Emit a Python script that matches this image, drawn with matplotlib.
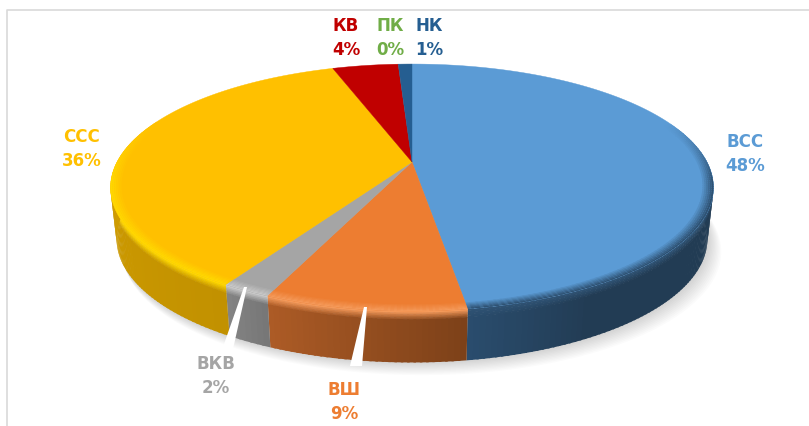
import numpy as np
import matplotlib
matplotlib.use('Agg')
import matplotlib.pyplot as plt
from matplotlib.collections import PolyCollection
from matplotlib.colors import to_rgb

# Data, clockwise from 12 o'clock
categories = ['ВСС', 'ВШ', 'ВКВ', 'ССС', 'КВ', 'ПК', 'НК']
values = [47.6, 8.9, 2.2, 36.1, 4.3, 0.0, 0.9]
percent_labels = ['48%', '9%', '2%', '36%', '4%', '0%', '1%']

colors = ['#5B9BD5', '#ED7D31', '#A5A5A5', '#FFC000', '#C00000', '#70AD47', '#255E91']
wall_left = ['#2A4D6E', '#AE5C26', '#858585', '#E2AC00', '#8A0000', '#4F7A32', '#1A4266']
wall_right = ['#223C54', '#7D4119', '#777777', '#C29100', '#8A0000', '#4F7A32', '#1A4266']
rim_colors = ['#2F5273', '#F59A5A', '#C8C8C8', '#FFD800', '#D01010', '#70AD47', '#255E91']
label_pos = [(745, 154), (344, 402), (216, 376), (82, 149), (346, 38), (390, 38), (429, 38)]

# Perspective of the pie in pixel coordinates
apex_x, apex_y = 412, 163
a, c, d = 118.2, 0.2065, 295.0
depth = 51


def project(theta, r=1.0, z=0.0):
    # theta in degrees, clockwise from the far side of the disc
    t = np.radians(theta)
    u = r * np.sin(t)
    v = r * np.cos(t)
    w = 1 + c * v
    return apex_x + (1 - 0.02 * z) * d * u / w, apex_y - a * v / w + z * depth


def mix(col1, col2, f):
    return tuple((1 - f) * np.array(to_rgb(col1)) + f * np.array(to_rgb(col2)))


def quad(t1, t2, r1, r2, z1, z2):
    x1, y1 = project(t1, r1, z1)
    x2, y2 = project(t2, r1, z1)
    x3, y3 = project(t2, r2, z2)
    x4, y4 = project(t1, r2, z2)
    return [(x1, y1), (x2, y2), (x3, y3), (x4, y4)]


fig = plt.figure(figsize=(8.09, 4.27), dpi=100)
ax = fig.add_axes([0, 0, 1, 1])
ax.set_xlim(0, 809)
ax.set_ylim(427, 0)
ax.axis('off')

# Chart frame
ax.plot([809, 7.5, 7.5], [10.5, 10.5, 427], color='#D9D9D9', lw=1.2)

# Soft shadow under the pie
all_t = np.linspace(0, 360, 361)
for i in range(12):
    x, y = project(all_t, 1.0, 1.0)
    ax.fill((x - apex_x) * (1 + 0.0012 * i) + apex_x + 0.9 * i, y + 1.2 * i,
            color='black', alpha=0.014, lw=0, zorder=1)

# Edges of the slices
edges = np.concatenate([[0], np.cumsum(values)]) * 3.6

# Side wall, cut in thin strips so it can carry a gradient
z_steps = np.r_[np.linspace(0, 0.16, 6), 1.0]
wall_polys = []
wall_cols = []
for k in range(len(values)):
    if values[k] == 0:
        continue
    steps = max(int(edges[k + 1] - edges[k]), 2)
    ts = np.linspace(edges[k], edges[k + 1], steps + 1)
    for j in range(steps):
        if np.cos(np.radians(ts[j])) > 0.3:
            continue
        f = 1 - j / steps
        if k == 0:
            f = min(1, f * 8)
        base = mix(wall_left[k], wall_right[k], f)
        for n in range(len(z_steps) - 1):
            g = min(1, n / (len(z_steps) - 2))
            col = mix(rim_colors[k], base, g)
            wall_polys.append(quad(ts[j], min(ts[j + 1] + 0.4, edges[k + 1]), 1, 1, z_steps[n], z_steps[n + 1] + 0.01))
            wall_cols.append(col)
ax.add_collection(PolyCollection(wall_polys, facecolors=wall_cols, edgecolors='none', zorder=2))

# Slice tops
for k in range(len(values)):
    if values[k] == 0:
        continue
    ts = np.linspace(edges[k], edges[k + 1], max(int(edges[k + 1] - edges[k]), 2) + 1)
    x, y = project(ts)
    ax.fill(np.r_[apex_x, x], np.r_[apex_y, y], color=colors[k], lw=0.3, zorder=3)

# Bevel along the front rim, brightest at the outer edge
bevel_r = np.linspace(0.965, 1.0, 7)
bevel_polys = []
bevel_cols = []
for k in range(len(values)):
    if values[k] == 0:
        continue
    steps = max(int(edges[k + 1] - edges[k]), 2)
    ts = np.linspace(edges[k], edges[k + 1], steps + 1)
    for j in range(steps):
        front = np.clip((0.35 - np.cos(np.radians(ts[j]))) / 0.5, 0, 1)
        if front == 0:
            continue
        for n in range(len(bevel_r) - 1):
            g = (n + 1) / (len(bevel_r) - 1) * front
            bevel_polys.append(quad(ts[j], min(ts[j + 1] + 0.4, edges[k + 1]), bevel_r[n], bevel_r[n + 1], 0, 0))
            bevel_cols.append(mix(colors[k], rim_colors[k], g))
ax.add_collection(PolyCollection(bevel_polys, facecolors=bevel_cols, edgecolors='none', zorder=4))

# Leader lines are white wedges on the wall
ax.fill([244, 247, 233, 223], [288, 288, 350, 348], color='white', lw=0, zorder=5)
ax.fill([364, 367, 362, 350], [308, 308, 367, 367], color='white', lw=0, zorder=5)

# Data labels
for name, pct, pos, col in zip(categories, percent_labels, label_pos, colors):
    ax.text(pos[0], pos[1] - 12, name, color=col, fontsize=12, fontweight='bold',
            ha='center', va='center', zorder=6)
    ax.text(pos[0], pos[1] + 12, pct, color=col, fontsize=12, fontweight='bold',
            ha='center', va='center', zorder=6)

fig.savefig('out.png', dpi=100)
